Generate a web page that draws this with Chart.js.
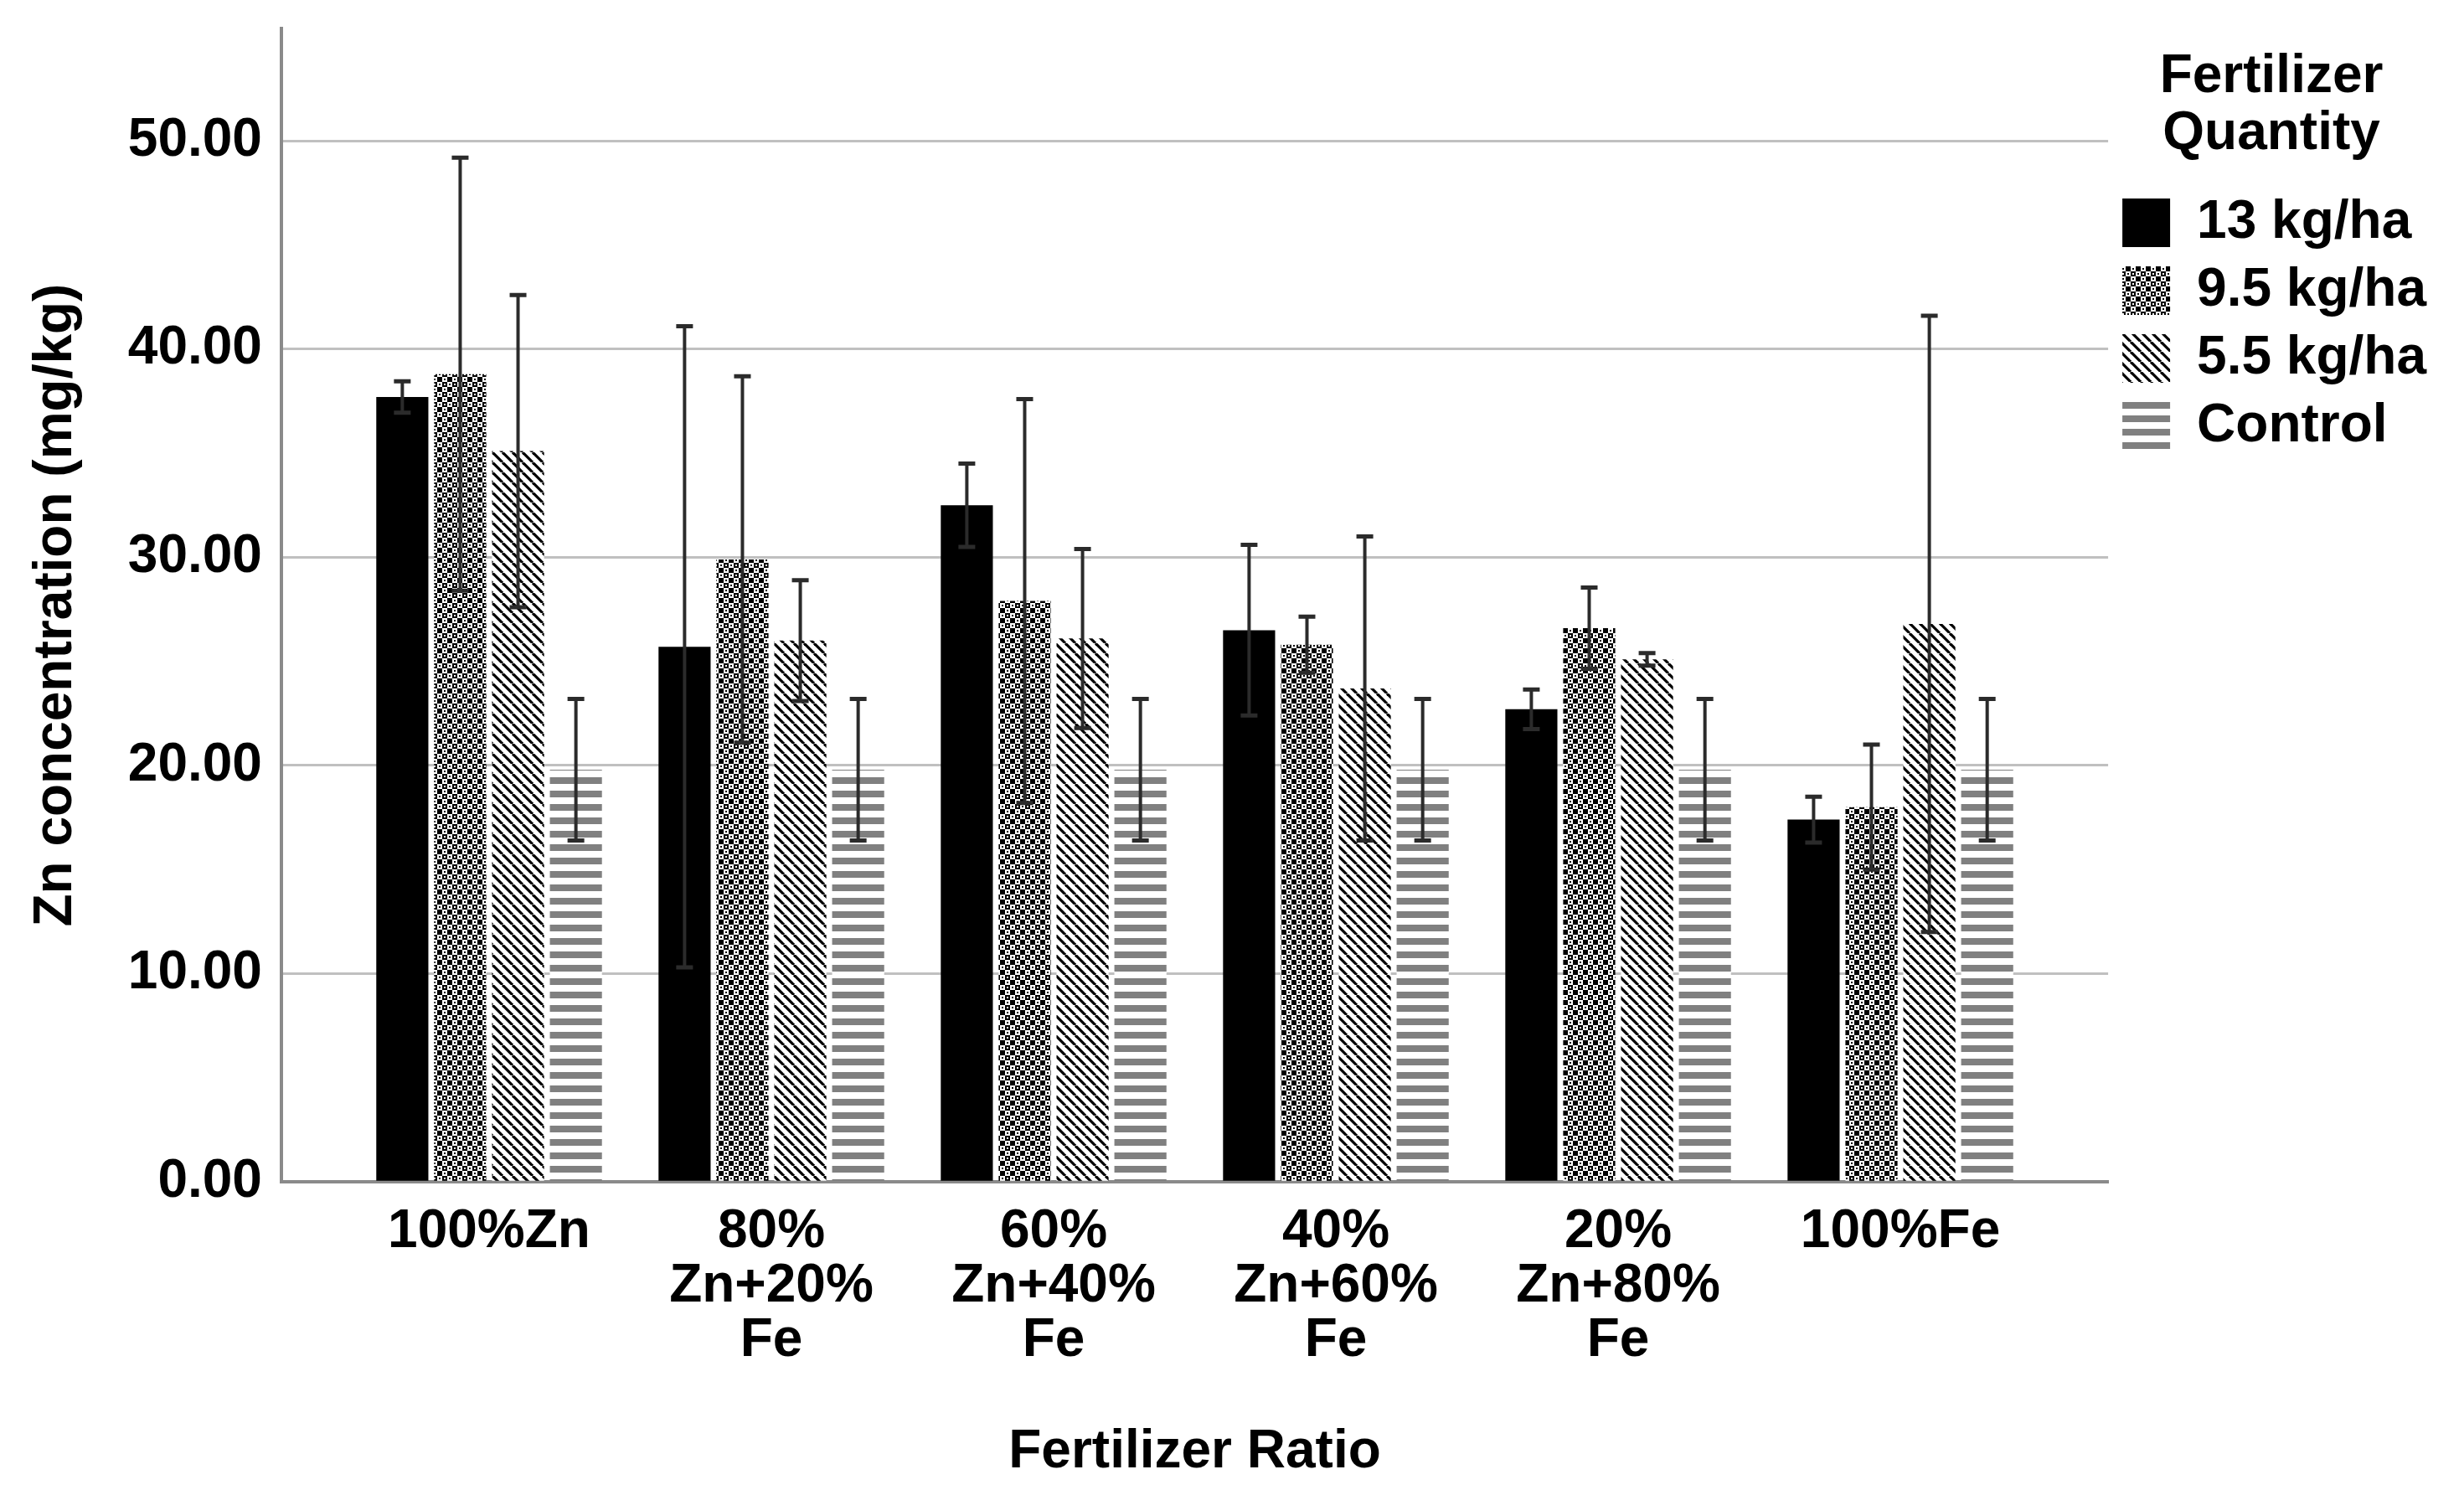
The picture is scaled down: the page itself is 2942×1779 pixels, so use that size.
<!DOCTYPE html>
<html lang="en">
<head>
<meta charset="UTF-8">
<title>Zn concentration by fertilizer ratio</title>
<script src="https://cdn.jsdelivr.net/npm/chart.js"></script>
<style>
  html, body { margin: 0; padding: 0; background: #fff; }
  #wrap { width: 2942px; height: 1779px; }
</style>
</head>
<body>
<div id="wrap"><canvas id="myChart" width="2942" height="1779"></canvas></div>
<script>
// categories on the x axis (multi-line labels as arrays)
const ratioLabels = [
    '100%Zn',
    ['80%', 'Zn+20%', 'Fe'],
    ['60%', 'Zn+40%', 'Fe'],
    ['40%', 'Zn+60%', 'Fe'],
    ['20%', 'Zn+80%', 'Fe'],
    '100%Fe'
];
const quantityNames = ['13 kg/ha', '9.5 kg/ha', '5.5 kg/ha', 'Control'];

// mean Zn concentration (mg/kg)
const mean13 = [37.7, 25.7, 32.5, 26.5, 22.7, 17.4];
const mean95 = [38.8, 29.9, 27.9, 25.8, 26.6, 18.0];
const mean55 = [35.1, 26.0, 26.1, 23.7, 25.1, 26.8];
const meanCtrl = [19.8, 19.8, 19.8, 19.8, 19.8, 19.8];

// error bar half lengths
const err13 = [0.75, 15.4, 2.0, 4.1, 0.95, 1.1];
const err95 = [10.4, 8.8, 9.7, 1.35, 1.95, 3.0];
const err55 = [7.5, 2.9, 4.3, 7.3, 0.3, 14.8];
const errCtrl = [3.4, 3.4, 3.4, 3.4, 3.4, 3.4];

const yTicks = [0, 10, 20, 30, 40, 50];

const FONT = "'Liberation Sans', Arial, sans-serif";
Chart.defaults.color = '#000';
Chart.defaults.font.family = FONT;

// fill patterns for the bars
function makePattern(kind) {
    const c = document.createElement('canvas');
    const size = kind === 'stripe' ? 16 : 12;
    c.width = size; c.height = size;
    const g = c.getContext('2d');
    g.fillStyle = '#fff';
    g.fillRect(0, 0, size, size);
    if (kind === 'checker') {
        g.fillStyle = '#000';
        g.fillRect(0, 0, 6, 6);
        g.fillRect(6, 6, 6, 6);
        g.fillStyle = '#fff';
        g.fillRect(2, 2, 2, 2);
        g.fillStyle = '#000';
        g.fillRect(8, 2, 2, 2);
        g.fillRect(2, 8, 2, 2);
    } else if (kind === 'diag') {
        g.strokeStyle = '#000';
        g.lineWidth = 3.2;
        [-size, 0, size].forEach(function (k) {
            g.beginPath();
            g.moveTo(k, 0);
            g.lineTo(k + size, size);
            g.stroke();
        });
    } else if (kind === 'stripe') {
        g.fillStyle = '#808080';
        g.fillRect(0, 0, size, 8);
    }
    return g.createPattern(c, 'repeat');
}

function toPoints(values) {
    return values.map(function (v, i) { return { x: i, y: v }; });
}

const errorBars = {
    id: 'errorBars',
    afterDatasetsDraw(chart) {
        const ctx = chart.ctx;
        const yScale = chart.scales.y;
        ctx.save();
        ctx.strokeStyle = '#2b2b2b';
        chart.data.datasets.forEach(function (ds, d) {
            const meta = chart.getDatasetMeta(d);
            meta.data.forEach(function (bar, i) {
                const v = ds.data[i].y;
                const e = ds.errors[i];
                const top = yScale.getPixelForValue(v + e);
                const bot = yScale.getPixelForValue(v - e);
                ctx.lineWidth = 4;
                ctx.beginPath();
                ctx.moveTo(bar.x, top);
                ctx.lineTo(bar.x, bot);
                ctx.stroke();
                ctx.lineWidth = 5;
                ctx.beginPath();
                ctx.moveTo(bar.x - 10, top);
                ctx.lineTo(bar.x + 10, top);
                ctx.moveTo(bar.x - 10, bot);
                ctx.lineTo(bar.x + 10, bot);
                ctx.stroke();
            });
        });
        ctx.restore();
    }
};

const data = {
    datasets: [
        { label: quantityNames[0], data: toPoints(mean13), errors: err13, backgroundColor: '#000' },
        { label: quantityNames[1], data: toPoints(mean95), errors: err95, backgroundColor: makePattern('checker') },
        { label: quantityNames[2], data: toPoints(mean55), errors: err55, backgroundColor: makePattern('diag') },
        { label: quantityNames[3], data: toPoints(meanCtrl), errors: errCtrl, backgroundColor: makePattern('stripe') }
    ]
};

const config = {
    type: 'bar',
    data: data,
    plugins: [errorBars],
    options: {
        responsive: false,
        animation: false,
        devicePixelRatio: 1,
        categoryPercentage: 0.82,
        barPercentage: 0.9,
        borderWidth: 0,
        layout: { padding: { left: 0, top: 0, right: 35, bottom: 0 } },
        plugins: {
            tooltip: { enabled: false },
            legend: {
                position: 'right',
                align: 'start',
                title: {
                    display: true,
                    text: ['Fertilizer', 'Quantity'],
                    position: 'center',
                    color: '#000',
                    font: { size: 64, weight: 'bold', lineHeight: 1.0625 },
                    padding: { top: 60, bottom: 89 }
                },
                labels: {
                    boxWidth: 57,
                    boxHeight: 58,
                    padding: 17,
                    color: '#000',
                    font: { size: 64, weight: 'bold' }
                }
            }
        },
        scales: {
            x: {
                type: 'linear',
                offset: false,
                min: -0.736,
                max: 5.736,
                afterBuildTicks: function (scale) {
                    scale.ticks = ratioLabels.map(function (_, i) { return { value: i }; });
                },
                ticks: {
                    autoSkip: false,
                    maxRotation: 0,
                    padding: 28,
                    font: { size: 64, weight: 'bold', lineHeight: 1.016 },
                    callback: function (value) { return ratioLabels[value]; }
                },
                grid: { display: false, drawTicks: false, tickLength: 0 },
                border: { display: true, color: '#8a8a8a', width: 4 },
                title: {
                    display: true,
                    text: 'Fertilizer Ratio',
                    font: { size: 64, weight: 'bold' },
                    padding: { top: 34, bottom: 6 }
                }
            },
            y: {
                min: 0,
                max: 55.4,
                afterBuildTicks: function (scale) {
                    scale.ticks = yTicks.map(function (v) { return { value: v }; });
                },
                ticks: {
                    padding: 23,
                    font: { size: 64, weight: 'bold', lineHeight: 0.344 },
                    callback: function (value) { return value.toFixed(2); }
                },
                grid: { color: '#c0c0c0', lineWidth: 3, drawTicks: false, tickLength: 0 },
                border: { display: true, color: '#8a8a8a', width: 4 },
                title: {
                    display: true,
                    text: 'Zn concentration (mg/kg)',
                    font: { size: 64, weight: 'bold' },
                    padding: { top: 29, bottom: 24 }
                }
            }
        }
    }
};

const myChart = new Chart(document.getElementById('myChart'), config);
</script>
</body>
</html>
